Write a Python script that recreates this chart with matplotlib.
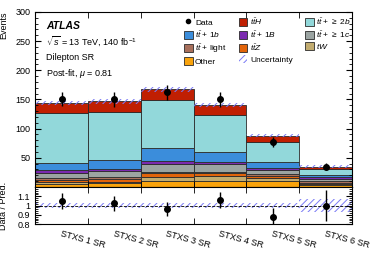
import numpy as np
import matplotlib
matplotlib.use("Agg")
import matplotlib.pyplot as plt
from matplotlib.patches import Patch
from matplotlib.lines import Line2D
from matplotlib.ticker import MultipleLocator

# === data ===
bins = ["STXS 1 SR", "STXS 2 SR", "STXS 3 SR", "STXS 4 SR", "STXS 5 SR", "STXS 6 SR"]
data = [151, 150, 162, 150, 77, 35]

other = [5, 6, 11, 11, 11, 3]
tw = [3, 3, 6, 7, 4, 2]
ttz = [4.5, 5, 7, 6, 4, 2]
tt_light = [2.5, 3.5, 2, 2, 3, 3]
tt_1c = [9.5, 9, 14, 13, 6.5, 4]
tt_1B = [4, 4, 5, 4.5, 4.5, 3.5]
tt_1b = [13, 15.5, 22.5, 16.5, 9, 3.5]
tt_2b = [86, 83, 81, 63, 35, 9]
tth = [16, 17.5, 19, 18, 11, 5]

rel_unc = [0.025, 0.025, 0.025, 0.025, 0.03, 0.07]

# bottom -> top
stack = [
    ("Other", other, "#f9a30c"),
    ("$tW$", tw, "#c2ac70"),
    (r"$t\bar{t}Z$", ttz, "#e2640a"),
    (r"$t\bar{t}$ + light", tt_light, "#a8705c"),
    (r"$t\bar{t}$ + $\geq$ 1$c$", tt_1c, "#9ba4a2"),
    (r"$t\bar{t}$ + 1$B$", tt_1B, "#7b2ab0"),
    (r"$t\bar{t}$ + 1$b$", tt_1b, "#3b8ddb"),
    (r"$t\bar{t}$ + $\geq$ 2$b$", tt_2b, "#92d8da"),
    (r"$t\bar{t}H$", tth, "#c01f02"),
]

plt.rcParams['font.family'] = ['Liberation Sans', 'DejaVu Sans']
plt.rcParams['mathtext.fontset'] = 'custom'
plt.rcParams['mathtext.rm'] = 'Liberation Sans'
plt.rcParams['mathtext.it'] = 'Liberation Sans:italic'
plt.rcParams['mathtext.bf'] = 'Liberation Sans:bold'
plt.rcParams['hatch.linewidth'] = 0.7

fig = plt.figure(figsize=(3.74, 2.60), dpi=100)
ax = fig.add_axes([0.094, 0.281, 0.847, 0.673])
rax = fig.add_axes([0.094, 0.138, 0.847, 0.143])

x = np.arange(len(bins)) + 0.5
edges = np.arange(1, len(bins))
bottom = np.zeros(len(bins))
handles = {}
for name, vals, col in stack:
    vals = np.array(vals, dtype=float)
    ax.bar(x, vals, width=1.0, bottom=bottom, color=col, edgecolor="#2b2b2b",
           linewidth=0.6)
    handles[name] = Patch(facecolor=col, edgecolor="#2b2b2b", linewidth=0.6)
    bottom += vals
total = bottom

# uncertainty band
unc = total * np.array(rel_unc)
ax.bar(x, 2 * unc, width=1.0, bottom=total - unc, color="none",
       edgecolor="#7a7af5", hatch="/////", linewidth=0)
rax.bar(x, 2 * np.array(rel_unc), width=1.0, bottom=1 - np.array(rel_unc),
        color="none", edgecolor="#7a7af5", hatch="/////", linewidth=0)

# data
d = np.array(data, dtype=float)
ax.errorbar(x, d, yerr=np.sqrt(d), fmt="o", color="black", ms=4,
            elinewidth=1.0, capsize=0)
rax.errorbar(x, d / total, yerr=np.sqrt(d) / total, fmt="o", color="black",
             ms=4, elinewidth=1.0, capsize=0)
rax.axhline(1.0, color="black", linestyle="--", linewidth=0.6)

for a in (ax, rax):
    a.set_xlim(0, 6)
ax.set_ylim(0, 300)
rax.set_ylim(0.8, 1.2)

# y ticks
ax.set_yticks([50, 100, 150, 200, 250, 300])
ax.yaxis.set_minor_locator(MultipleLocator(10))
rax.set_yticks([0.8, 0.9, 1.0, 1.1])
rax.set_yticklabels(["0.8", "0.9", "1", "1.1"])
rax.yaxis.set_minor_locator(MultipleLocator(0.02))

# x ticks: marks at bin edges (minor), labels at centres (major, no mark)
ax.set_xticks(x)
ax.set_xticklabels([])
ax.set_xticks(edges, minor=True)
rax.set_xticks(x)
rax.set_xticklabels(bins, rotation=-15, ha="left", rotation_mode="anchor",
                    fontsize=6.5)
rax.set_xticks(edges, minor=True)

for a in (ax, rax):
    a.tick_params(axis="y", which="major", direction="in", right=True,
                  labelsize=6.5, length=4)
    a.tick_params(axis="y", which="minor", direction="in", right=True, length=2)
    a.tick_params(axis="x", which="major", length=0, top=True)
    a.tick_params(axis="x", which="minor", direction="in", top=True, length=4)
rax.tick_params(axis="x", which="major", pad=4)

ax.set_ylabel("Events", fontsize=6.5, loc="top")
rax.set_ylabel("Data / Pred.", fontsize=6.5)
ax.yaxis.set_label_coords(-0.085, 1.0)
rax.yaxis.set_label_coords(-0.085, 0.5)

# ATLAS label
ax.text(0.035, 0.905, "ATLAS", transform=ax.transAxes, fontsize=7.5,
        fontweight="bold", fontstyle="italic")
ax.text(0.035, 0.815, r"$\sqrt{s}$ = 13 TeV, 140 fb$^{-1}$", transform=ax.transAxes,
        fontsize=6.5)
ax.text(0.035, 0.725, "Dilepton SR", transform=ax.transAxes, fontsize=6.5)
ax.text(0.035, 0.635, r"Post-fit, $\mu$ = 0.81", transform=ax.transAxes, fontsize=6.5)

# legend
data_h = Line2D([], [], marker="o", color="black", ms=3, linestyle="none")
unc_h = Patch(facecolor="none", edgecolor="#7a7af5", hatch="/////", linewidth=0)
names = [n for n, _, _ in stack]
order = [("Data", data_h),
         (names[6], handles[names[6]]),
         (names[3], handles[names[3]]),
         (names[0], handles[names[0]]),
         (names[8], handles[names[8]]),
         (names[5], handles[names[5]]),
         (names[2], handles[names[2]]),
         ("Uncertainty", unc_h),
         (names[7], handles[names[7]]),
         (names[4], handles[names[4]]),
         (names[1], handles[names[1]])]
ax.legend([h for _, h in order], [n for n, _ in order], ncol=3, frameon=False,
          fontsize=6, loc="upper left", bbox_to_anchor=(0.455, 1.005),
          handlelength=1.0, handleheight=1.1, handletextpad=0.3,
          columnspacing=1.5, labelspacing=0.3, borderaxespad=0.2)

fig.savefig("out.png", dpi=100)
